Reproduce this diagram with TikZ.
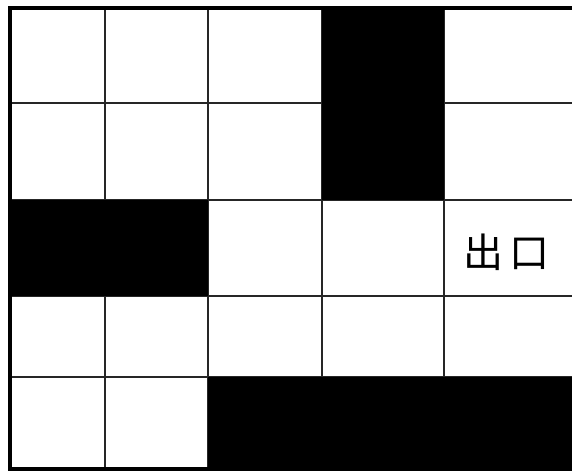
\documentclass[tikz,border=0pt]{standalone}
\usepackage{fontspec}
\newfontfamily\cjk{Noto Sans CJK SC}
\begin{document}
\begin{tikzpicture}[x=1pt,y=-1pt,
  wall/.style={fill=black},
  gridline/.style={line width=2pt,black!85},
  border/.style={line width=4pt,black},
  exitlabel/.style={font=\cjk\fontsize{40}{42}\selectfont,inner sep=0pt}
]
  \useasboundingbox (0,0) rectangle (572,471);
  \clip (0,0) rectangle (572,471);
  % grid lines
  \foreach \gx in {105,208,322,444}
    \draw[gridline] (\gx,8) -- (\gx,469);
  \foreach \gy in {103,200,296,377}
    \draw[gridline] (10,\gy) -- (580,\gy);
  % walls
  \fill[wall] (322,8) rectangle (444,200);
  \fill[wall] (10,200) rectangle (208,296);
  \fill[wall] (208,377) rectangle (580,471);
  % outer border
  \draw[border] (580,8) -- (10,8) -- (10,469) -- (580,469);
  \node[exitlabel] (exit) at (506,252) {出\hspace{6pt}口};
\end{tikzpicture}
\end{document}
